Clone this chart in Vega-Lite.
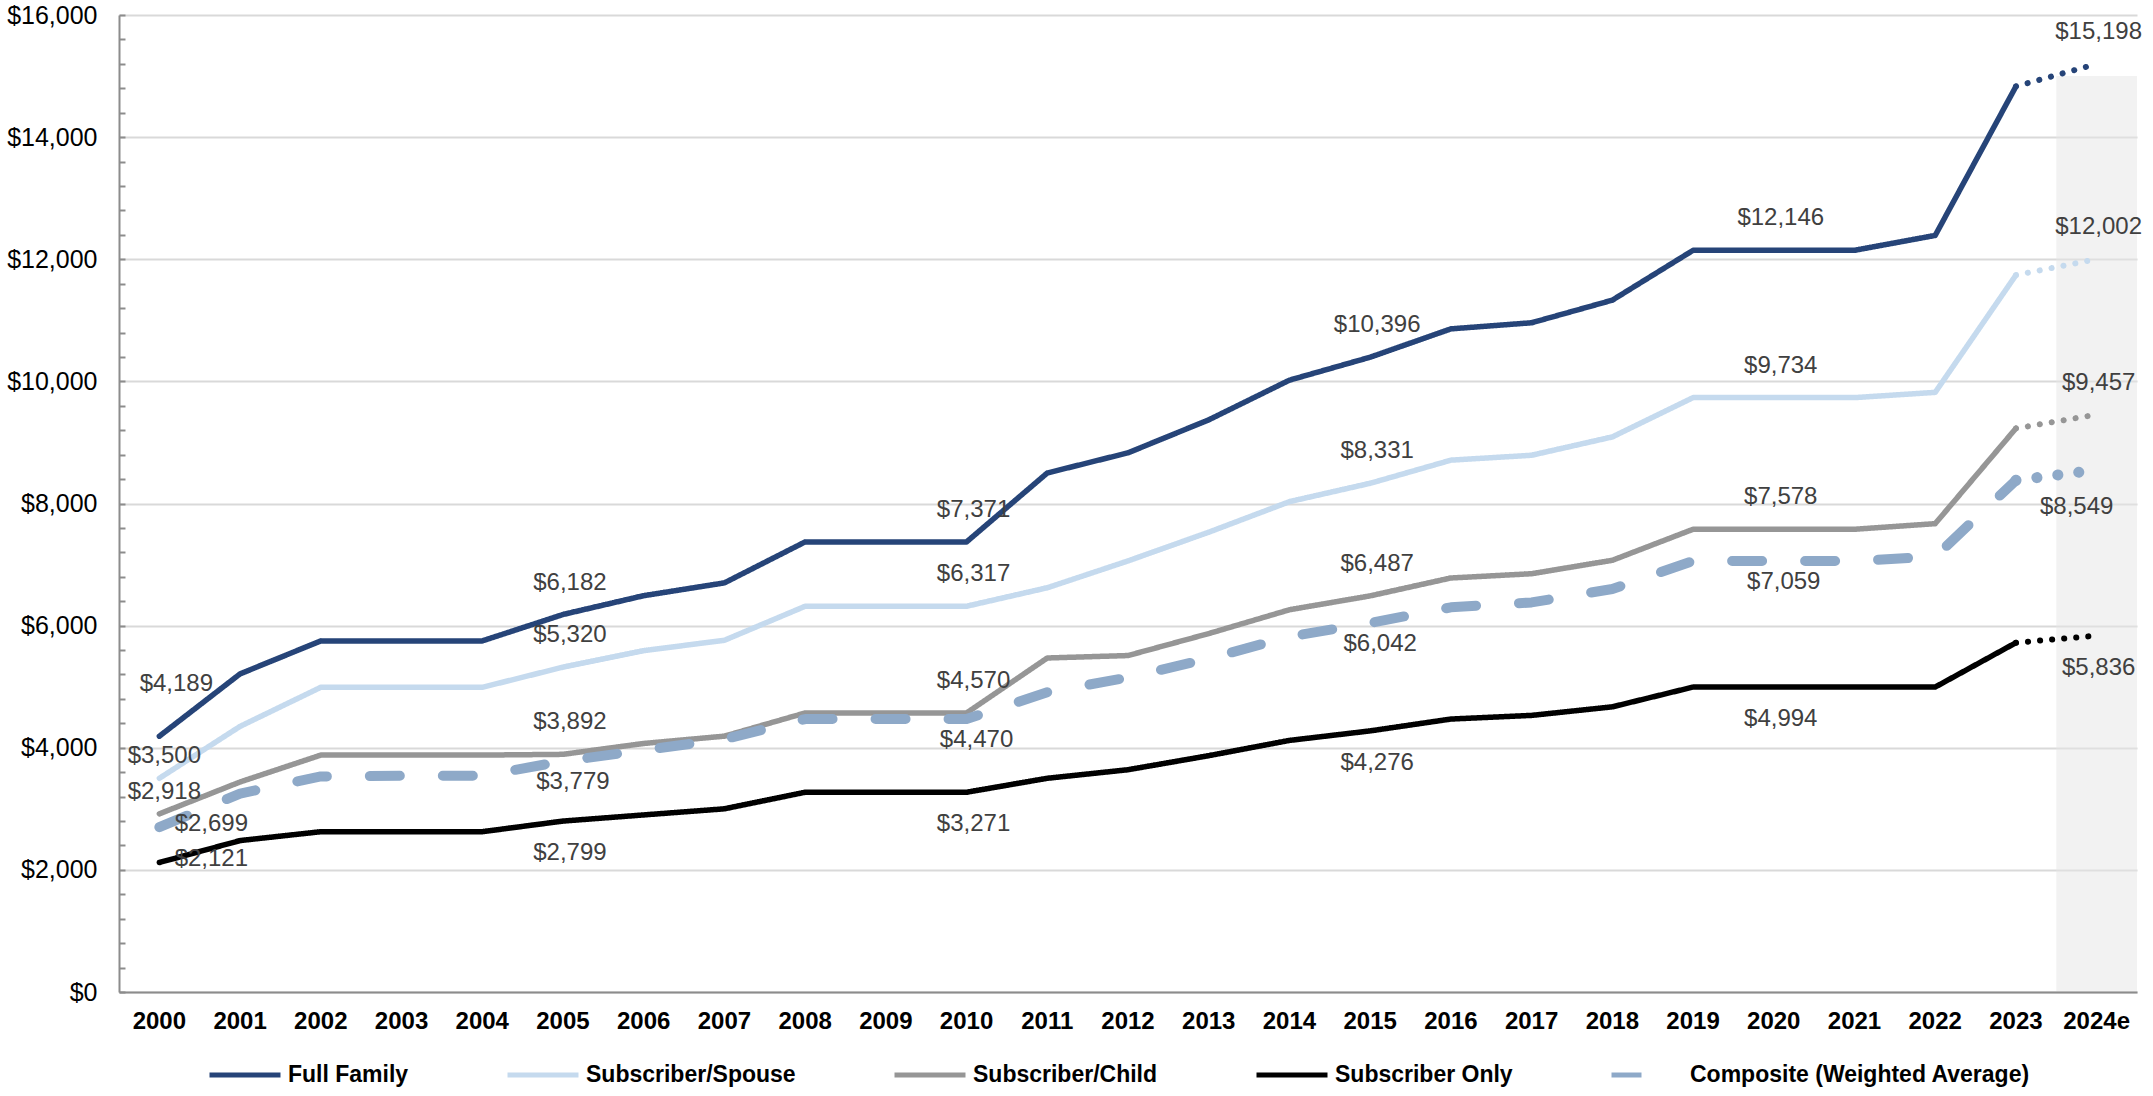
{
  "$schema": "https://vega.github.io/schema/vega-lite/v6.json",
  "width": 2018,
  "height": 977,
  "autosize": {"type": "none"},
  "padding": {"left": 119, "top": 15, "right": 16, "bottom": 104},
  "background": "white",
  "config": {"view": {"stroke": null}, "font": "Liberation Sans"},
  "datasets": {
    "costs": [
      {"series": "Full Family", "year": "2000", "value": 4189},
      {"series": "Full Family", "year": "2001", "value": 5210},
      {"series": "Full Family", "year": "2002", "value": 5750},
      {"series": "Full Family", "year": "2003", "value": 5750},
      {"series": "Full Family", "year": "2004", "value": 5750},
      {"series": "Full Family", "year": "2005", "value": 6182},
      {"series": "Full Family", "year": "2006", "value": 6490},
      {"series": "Full Family", "year": "2007", "value": 6700},
      {"series": "Full Family", "year": "2008", "value": 7371},
      {"series": "Full Family", "year": "2009", "value": 7371},
      {"series": "Full Family", "year": "2010", "value": 7371},
      {"series": "Full Family", "year": "2011", "value": 8500},
      {"series": "Full Family", "year": "2012", "value": 8830},
      {"series": "Full Family", "year": "2013", "value": 9370},
      {"series": "Full Family", "year": "2014", "value": 10020},
      {"series": "Full Family", "year": "2015", "value": 10396},
      {"series": "Full Family", "year": "2016", "value": 10860},
      {"series": "Full Family", "year": "2017", "value": 10960},
      {"series": "Full Family", "year": "2018", "value": 11330},
      {"series": "Full Family", "year": "2019", "value": 12146},
      {"series": "Full Family", "year": "2020", "value": 12146},
      {"series": "Full Family", "year": "2021", "value": 12146},
      {"series": "Full Family", "year": "2022", "value": 12390},
      {"series": "Full Family", "year": "2023", "value": 14830},
      {"series": "Full Family", "year": "2024e", "value": 15198},
      {"series": "Subscriber/Spouse", "year": "2000", "value": 3500},
      {"series": "Subscriber/Spouse", "year": "2001", "value": 4350},
      {"series": "Subscriber/Spouse", "year": "2002", "value": 4990},
      {"series": "Subscriber/Spouse", "year": "2003", "value": 4990},
      {"series": "Subscriber/Spouse", "year": "2004", "value": 4990},
      {"series": "Subscriber/Spouse", "year": "2005", "value": 5320},
      {"series": "Subscriber/Spouse", "year": "2006", "value": 5590},
      {"series": "Subscriber/Spouse", "year": "2007", "value": 5760},
      {"series": "Subscriber/Spouse", "year": "2008", "value": 6317},
      {"series": "Subscriber/Spouse", "year": "2009", "value": 6317},
      {"series": "Subscriber/Spouse", "year": "2010", "value": 6317},
      {"series": "Subscriber/Spouse", "year": "2011", "value": 6620},
      {"series": "Subscriber/Spouse", "year": "2012", "value": 7060},
      {"series": "Subscriber/Spouse", "year": "2013", "value": 7530},
      {"series": "Subscriber/Spouse", "year": "2014", "value": 8030},
      {"series": "Subscriber/Spouse", "year": "2015", "value": 8331},
      {"series": "Subscriber/Spouse", "year": "2016", "value": 8710},
      {"series": "Subscriber/Spouse", "year": "2017", "value": 8790},
      {"series": "Subscriber/Spouse", "year": "2018", "value": 9090},
      {"series": "Subscriber/Spouse", "year": "2019", "value": 9734},
      {"series": "Subscriber/Spouse", "year": "2020", "value": 9734},
      {"series": "Subscriber/Spouse", "year": "2021", "value": 9734},
      {"series": "Subscriber/Spouse", "year": "2022", "value": 9820},
      {"series": "Subscriber/Spouse", "year": "2023", "value": 11740},
      {"series": "Subscriber/Spouse", "year": "2024e", "value": 12002},
      {"series": "Subscriber/Child", "year": "2000", "value": 2918},
      {"series": "Subscriber/Child", "year": "2001", "value": 3440},
      {"series": "Subscriber/Child", "year": "2002", "value": 3880},
      {"series": "Subscriber/Child", "year": "2003", "value": 3880},
      {"series": "Subscriber/Child", "year": "2004", "value": 3880},
      {"series": "Subscriber/Child", "year": "2005", "value": 3892},
      {"series": "Subscriber/Child", "year": "2006", "value": 4070},
      {"series": "Subscriber/Child", "year": "2007", "value": 4190},
      {"series": "Subscriber/Child", "year": "2008", "value": 4570},
      {"series": "Subscriber/Child", "year": "2009", "value": 4570},
      {"series": "Subscriber/Child", "year": "2010", "value": 4570},
      {"series": "Subscriber/Child", "year": "2011", "value": 5470},
      {"series": "Subscriber/Child", "year": "2012", "value": 5510},
      {"series": "Subscriber/Child", "year": "2013", "value": 5870},
      {"series": "Subscriber/Child", "year": "2014", "value": 6260},
      {"series": "Subscriber/Child", "year": "2015", "value": 6487},
      {"series": "Subscriber/Child", "year": "2016", "value": 6780},
      {"series": "Subscriber/Child", "year": "2017", "value": 6850},
      {"series": "Subscriber/Child", "year": "2018", "value": 7070},
      {"series": "Subscriber/Child", "year": "2019", "value": 7578},
      {"series": "Subscriber/Child", "year": "2020", "value": 7578},
      {"series": "Subscriber/Child", "year": "2021", "value": 7578},
      {"series": "Subscriber/Child", "year": "2022", "value": 7670},
      {"series": "Subscriber/Child", "year": "2023", "value": 9230},
      {"series": "Subscriber/Child", "year": "2024e", "value": 9457},
      {"series": "Subscriber Only", "year": "2000", "value": 2121},
      {"series": "Subscriber Only", "year": "2001", "value": 2480},
      {"series": "Subscriber Only", "year": "2002", "value": 2625},
      {"series": "Subscriber Only", "year": "2003", "value": 2625},
      {"series": "Subscriber Only", "year": "2004", "value": 2625},
      {"series": "Subscriber Only", "year": "2005", "value": 2799},
      {"series": "Subscriber Only", "year": "2006", "value": 2900},
      {"series": "Subscriber Only", "year": "2007", "value": 3000},
      {"series": "Subscriber Only", "year": "2008", "value": 3271},
      {"series": "Subscriber Only", "year": "2009", "value": 3271},
      {"series": "Subscriber Only", "year": "2010", "value": 3271},
      {"series": "Subscriber Only", "year": "2011", "value": 3500},
      {"series": "Subscriber Only", "year": "2012", "value": 3640},
      {"series": "Subscriber Only", "year": "2013", "value": 3870},
      {"series": "Subscriber Only", "year": "2014", "value": 4120},
      {"series": "Subscriber Only", "year": "2015", "value": 4276},
      {"series": "Subscriber Only", "year": "2016", "value": 4470},
      {"series": "Subscriber Only", "year": "2017", "value": 4530},
      {"series": "Subscriber Only", "year": "2018", "value": 4670},
      {"series": "Subscriber Only", "year": "2019", "value": 4994},
      {"series": "Subscriber Only", "year": "2020", "value": 4994},
      {"series": "Subscriber Only", "year": "2021", "value": 4994},
      {"series": "Subscriber Only", "year": "2022", "value": 4994},
      {"series": "Subscriber Only", "year": "2023", "value": 5720},
      {"series": "Subscriber Only", "year": "2024e", "value": 5836},
      {"series": "Composite (Weighted Average)", "year": "2000", "value": 2699},
      {"series": "Composite (Weighted Average)", "year": "2001", "value": 3250},
      {"series": "Composite (Weighted Average)", "year": "2002", "value": 3530},
      {"series": "Composite (Weighted Average)", "year": "2003", "value": 3540},
      {"series": "Composite (Weighted Average)", "year": "2004", "value": 3540},
      {"series": "Composite (Weighted Average)", "year": "2005", "value": 3779},
      {"series": "Composite (Weighted Average)", "year": "2006", "value": 3960},
      {"series": "Composite (Weighted Average)", "year": "2007", "value": 4140},
      {"series": "Composite (Weighted Average)", "year": "2008", "value": 4470},
      {"series": "Composite (Weighted Average)", "year": "2009", "value": 4470},
      {"series": "Composite (Weighted Average)", "year": "2010", "value": 4470},
      {"series": "Composite (Weighted Average)", "year": "2011", "value": 4910},
      {"series": "Composite (Weighted Average)", "year": "2012", "value": 5150},
      {"series": "Composite (Weighted Average)", "year": "2013", "value": 5460},
      {"series": "Composite (Weighted Average)", "year": "2014", "value": 5820},
      {"series": "Composite (Weighted Average)", "year": "2015", "value": 6042},
      {"series": "Composite (Weighted Average)", "year": "2016", "value": 6300},
      {"series": "Composite (Weighted Average)", "year": "2017", "value": 6380},
      {"series": "Composite (Weighted Average)", "year": "2018", "value": 6600},
      {"series": "Composite (Weighted Average)", "year": "2019", "value": 7059},
      {"series": "Composite (Weighted Average)", "year": "2020", "value": 7059},
      {"series": "Composite (Weighted Average)", "year": "2021", "value": 7059},
      {"series": "Composite (Weighted Average)", "year": "2022", "value": 7130},
      {"series": "Composite (Weighted Average)", "year": "2023", "value": 8380},
      {"series": "Composite (Weighted Average)", "year": "2024e", "value": 8549}
    ],
    "shade": [
      {"year": "2024e", "value": 15000}
    ]
  },
  "data": {"name": "costs"},
  "encoding": {
    "x": {
      "field": "year",
      "type": "nominal",
      "scale": {
        "type": "band",
        "domain": ["2000","2001","2002","2003","2004","2005","2006","2007","2008","2009","2010","2011","2012","2013","2014","2015","2016","2017","2018","2019","2020","2021","2022","2023","2024e"],
        "paddingInner": 0,
        "paddingOuter": 0
      },
      "axis": {
        "title": null,
        "labelAngle": 0,
        "labelFont": "Liberation Sans",
        "labelFontSize": 24,
        "labelFontWeight": "bold",
        "labelColor": "black",
        "ticks": false,
        "labelPadding": 17,
        "domainColor": "#8c8c8c",
        "domainWidth": 2,
        "grid": false
      }
    },
    "y": {
      "field": "value",
      "type": "quantitative",
      "scale": {"domain": [0, 16000], "nice": false, "zero": true},
      "axis": {
        "title": null,
        "values": [0,400,800,1200,1600,2000,2400,2800,3200,3600,4000,4400,4800,5200,5600,6000,6400,6800,7200,7600,8000,8400,8800,9200,9600,10000,10400,10800,11200,11600,12000,12400,12800,13200,13600,14000,14400,14800,15200,15600,16000],
        "labelExpr": "datum.value % 2000 === 0 ? format(datum.value, '$,.0f') : ''",
        "labelOverlap": false,
        "labelFont": "Liberation Sans",
        "labelFontSize": 25,
        "labelColor": "black",
        "labelPadding": 28,
        "tickSize": -6,
        "tickColor": "#8c8c8c",
        "tickWidth": 2,
        "domainColor": "#8c8c8c",
        "domainWidth": 2,
        "grid": true,
        "gridColor": "#d9d9d9",
        "gridWidth": 2,
        "gridOpacity": {"condition": {"test": "datum.value % 2000 === 0", "value": 1}, "value": 0}
      }
    }
  },
  "layer": [
    {
      "data": {"name": "shade"},
      "mark": {"type": "rect", "color": "#e6e6e6", "opacity": 0.5},
      "encoding": {"y2": {"datum": 0}}
    },
    {
      "transform": [{"filter": "datum.year !== '2024e' && datum.series !== 'Composite (Weighted Average)'"}],
      "mark": {"type": "line", "strokeCap": "round", "strokeJoin": "round", "strokeWidth": 5.5},
      "encoding": {
        "color": {
          "field": "series",
          "type": "nominal",
          "scale": {
            "domain": ["Full Family", "Subscriber/Spouse", "Subscriber/Child", "Subscriber Only", "Composite (Weighted Average)"],
            "range": ["#264478", "#C5DAEE", "#969696", "#000000", "#8EA9C8"]
          },
          "legend": {
            "title": null,
            "orient": "none",
            "legendX": 88,
            "legendY": 1022,
            "direction": "horizontal",
            "symbolType": "stroke",
            "symbolSize": 5041,
            "symbolStrokeWidth": 5,
            "labelFont": "Liberation Sans",
            "labelFontSize": 23,
            "labelFontWeight": "bold",
            "labelColor": "black",
            "labelOffset": 5,
            "labelLimit": 600,
            "columnPadding": 88
          }
        },
        "strokeDash": {
          "field": "series",
          "type": "nominal",
          "scale": {
            "domain": ["Full Family", "Subscriber/Spouse", "Subscriber/Child", "Subscriber Only", "Composite (Weighted Average)"],
            "range": [[1, 0], [1, 0], [1, 0], [1, 0], [30, 43]]
          },
          "legend": {
            "title": null,
            "orient": "none",
            "legendX": 88,
            "legendY": 1022,
            "direction": "horizontal",
            "symbolType": "stroke",
            "symbolSize": 5041,
            "symbolStrokeWidth": 5,
            "labelFont": "Liberation Sans",
            "labelFontSize": 23,
            "labelFontWeight": "bold",
            "labelColor": "black",
            "labelOffset": 5,
            "labelLimit": 600,
            "columnPadding": 88
          }
        }
      }
    },
    {
      "transform": [{"filter": "datum.year !== '2024e' && datum.series === 'Composite (Weighted Average)'"}],
      "mark": {"type": "line", "strokeCap": "round", "strokeJoin": "round", "strokeWidth": 10},
      "encoding": {
        "color": {"field": "series", "type": "nominal"},
        "strokeDash": {"field": "series", "type": "nominal"}
      }
    },
    {
      "transform": [{"filter": "(datum.year === '2023' || datum.year === '2024e') && datum.series !== 'Composite (Weighted Average)'"}],
      "mark": {"type": "line", "strokeCap": "round", "strokeDash": [0.1, 12], "strokeWidth": 6},
      "encoding": {"color": {"field": "series", "type": "nominal"}}
    },
    {
      "transform": [{"filter": "(datum.year === '2023' || datum.year === '2024e') && datum.series === 'Composite (Weighted Average)'"}],
      "mark": {"type": "line", "strokeCap": "round", "strokeDash": [0.1, 21], "strokeWidth": 11, "color": "#8EA9C8"},
      "encoding": {}
    },
    {
      "transform": [{"filter": "indexof(['2005','2010','2015','2020'], datum.year) >= 0 && indexof(['Full Family','Subscriber/Spouse','Subscriber/Child'], datum.series) >= 0"}],
      "mark": {"type": "text", "font": "Liberation Sans", "fontSize": 24, "color": "#404040", "align": "center", "baseline": "middle", "dx": 7, "dy": -32},
      "encoding": {"text": {"field": "value", "type": "quantitative", "format": "$,.0f"}}
    },
    {
      "transform": [{"filter": "datum.year === '2024e' && indexof(['Full Family','Subscriber/Spouse','Subscriber/Child'], datum.series) >= 0"}],
      "mark": {"type": "text", "font": "Liberation Sans", "fontSize": 24, "color": "#404040", "align": "center", "baseline": "middle", "dx": 2, "dy": -32},
      "encoding": {"text": {"field": "value", "type": "quantitative", "format": "$,.0f"}}
    },
    {
      "transform": [{"filter": "indexof(['2005','2010','2015','2020'], datum.year) >= 0 && datum.series === 'Subscriber Only'"}],
      "mark": {"type": "text", "font": "Liberation Sans", "fontSize": 24, "color": "#404040", "align": "center", "baseline": "middle", "dx": 7, "dy": 32},
      "encoding": {"text": {"field": "value", "type": "quantitative", "format": "$,.0f"}}
    },
    {
      "transform": [{"filter": "datum.year === '2024e' && datum.series === 'Subscriber Only'"}],
      "mark": {"type": "text", "font": "Liberation Sans", "fontSize": 24, "color": "#404040", "align": "center", "baseline": "middle", "dx": 2, "dy": 32},
      "encoding": {"text": {"field": "value", "type": "quantitative", "format": "$,.0f"}}
    },
    {
      "transform": [{"filter": "indexof(['2005','2010','2015','2020'], datum.year) >= 0 && datum.series === 'Composite (Weighted Average)'"}],
      "mark": {"type": "text", "font": "Liberation Sans", "fontSize": 24, "color": "#404040", "align": "center", "baseline": "middle", "dx": 10, "dy": 21},
      "encoding": {"text": {"field": "value", "type": "quantitative", "format": "$,.0f"}}
    },
    {
      "transform": [{"filter": "datum.year === '2024e' && datum.series === 'Composite (Weighted Average)'"}],
      "mark": {"type": "text", "font": "Liberation Sans", "fontSize": 24, "color": "#404040", "align": "center", "baseline": "middle", "dx": -20, "dy": 37},
      "encoding": {"text": {"field": "value", "type": "quantitative", "format": "$,.0f"}}
    },
    {
      "transform": [{"filter": "datum.year === '2000' && datum.series === 'Full Family'"}],
      "mark": {"type": "text", "font": "Liberation Sans", "fontSize": 24, "color": "#404040", "align": "center", "baseline": "middle", "dx": 17, "dy": -52},
      "encoding": {"text": {"field": "value", "type": "quantitative", "format": "$,.0f"}}
    },
    {
      "transform": [{"filter": "datum.year === '2000' && (datum.series === 'Subscriber/Spouse' || datum.series === 'Subscriber/Child')"}],
      "mark": {"type": "text", "font": "Liberation Sans", "fontSize": 24, "color": "#404040", "align": "center", "baseline": "middle", "dx": 5, "dy": -22},
      "encoding": {"text": {"field": "value", "type": "quantitative", "format": "$,.0f"}}
    },
    {
      "transform": [{"filter": "datum.year === '2000' && (datum.series === 'Subscriber Only' || datum.series === 'Composite (Weighted Average)')"}],
      "mark": {"type": "text", "font": "Liberation Sans", "fontSize": 24, "color": "#404040", "align": "center", "baseline": "middle", "dx": 52, "dy": -3},
      "encoding": {"text": {"field": "value", "type": "quantitative", "format": "$,.0f"}}
    }
  ]
}
